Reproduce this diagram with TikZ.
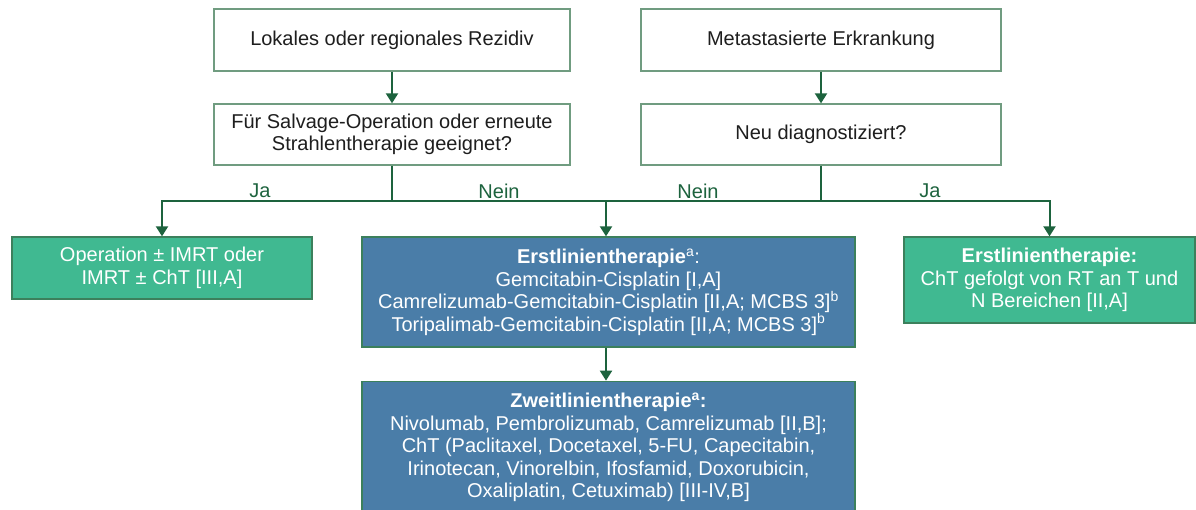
\documentclass[tikz,border=0pt]{standalone}
\usepackage{fontspec}
\setmainfont{Liberation Sans}
\usepackage{tikz}
\usetikzlibrary{positioning,arrows.meta}
\definecolor{linegreen}{RGB}{29,99,62}
\definecolor{framegreen}{RGB}{112,156,128}
\definecolor{edgegreen}{RGB}{60,128,92}
\definecolor{boxgreen}{RGB}{64,185,145}
\definecolor{boxblue}{RGB}{74,125,168}
\definecolor{textgrey}{RGB}{30,30,30}
\tikzset{
  plainbox/.style={draw=framegreen, line width=1.3pt, fill=white, text=textgrey,
    align=center, inner sep=0pt},
  greenbox/.style={draw=edgegreen, line width=1.3pt, fill=boxgreen, text=white,
    align=center, inner sep=0pt},
  bluebox/.style={draw=edgegreen, line width=1.3pt, fill=boxblue, text=white,
    align=center, inner sep=0pt},
  flow/.style={draw=linegreen, line width=2pt, -{Triangle[width=12pt,length=10pt]}},
  branch/.style={draw=linegreen, line width=2pt},
  yesno/.style={text=linegreen, inner sep=0pt}
}

\begin{document}
\begin{tikzpicture}[x=1pt,y=-1pt,font=\fontsize{20}{22.6}\selectfont]
    \useasboundingbox (0,0) rectangle (1196,510);
    % top row
    \node[plainbox, minimum width=356pt, minimum height=62pt] (lokal) at (392,40)
      {Lokales oder regionales Rezidiv};
    \node[plainbox, minimum width=360pt, minimum height=62pt] (meta) at (821,40)
      {Metastasierte Erkrankung};
    \node[plainbox, minimum width=356pt, minimum height=61pt] (salv) at (392,134.5)
      {Für Salvage-Operation oder erneute\\Strahlentherapie geeignet?};
    \node[plainbox, minimum width=360pt, minimum height=61pt] (neu) at (821,134.5)
      {Neu diagnostiziert?};
    % therapy boxes
    \node[greenbox, minimum width=300pt, minimum height=62pt] (op) at (162,268)
      {Operation ± IMRT oder\\IMRT ± ChT [III,A]};
    \node[bluebox, minimum width=493pt, minimum height=110pt] (erst) at (608.5,292)
      {\textbf{Erstlinientherapie}\textsuperscript{a}:\\
       Gemcitabin-Cisplatin [I,A]\\
       Camrelizumab-Gemcitabin-Cisplatin [II,A; MCBS 3]\textsuperscript{b}\\
       Toripalimab-Gemcitabin-Cisplatin [II,A; MCBS 3]\textsuperscript{b}};
    \node[greenbox, minimum width=291pt, minimum height=86pt] (erstmeta) at (1049.5,280)
      {\textbf{Erstlinientherapie:}\\ChT gefolgt von RT an T und\\N Bereichen [II,A]};
    \node[bluebox, minimum width=493pt, minimum height=132pt, below=33pt of erst] (zweit)
      {\textbf{Zweitlinientherapie\textsuperscript{a}:}\\
       Nivolumab, Pembrolizumab, Camrelizumab [II,B];\\
       ChT (Paclitaxel, Docetaxel, 5-FU, Capecitabin,\\
       Irinotecan, Vinorelbin, Ifosfamid, Doxorubicin,\\
       Oxaliplatin, Cetuximab) [III-IV,B]};
    % forks
    \coordinate (forkL) at (392,201);
    \coordinate (forkR) at (821,201);
    \coordinate (forkM) at (606,201);
    % connectors
    \draw[flow] (lokal) -- (salv);
    \draw[flow] (meta) -- (neu);
    \draw[flow] (salv.south) -- (forkL) -| (op.north);
    \draw[flow] (neu.south) -- (forkR) -| (erstmeta.north);
    \draw[branch] (forkL) -- (forkR);
    \draw[flow] (forkM) -- (forkM |- erst.north);
    \draw[flow] (forkM |- erst.south) -- (forkM |- zweit.north);
    % labels
    \node[yesno] (jaL) at (260,191) {Ja};
    \node[yesno] (neinL) at (499,191) {Nein};
    \node[yesno] (neinR) at (698,191) {Nein};
    \node[yesno] (jaR) at (930,191) {Ja};
\end{tikzpicture}
\end{document}
